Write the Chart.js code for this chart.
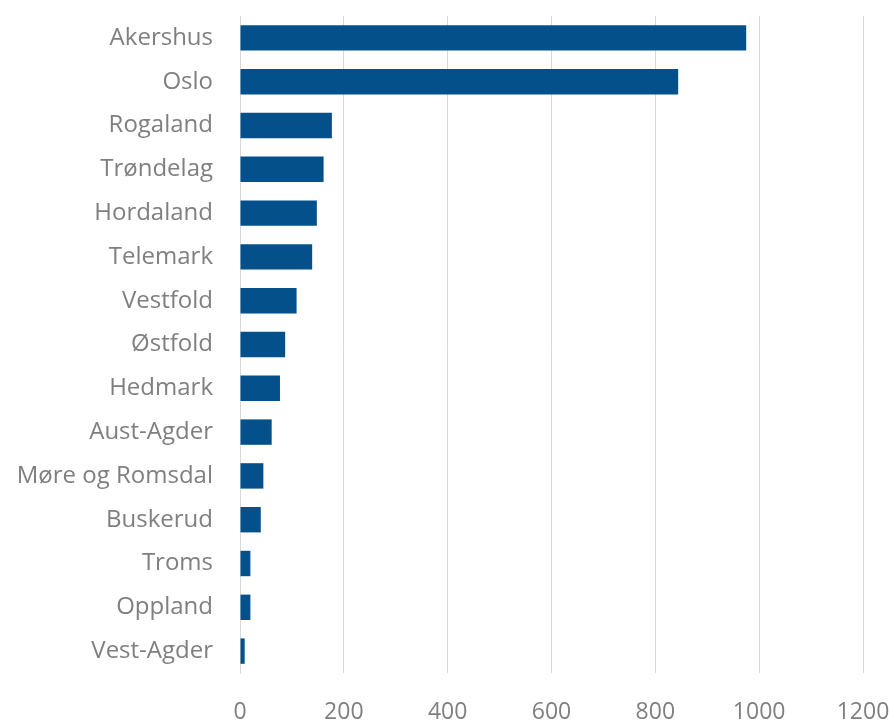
<!DOCTYPE html>
<html>
<head>
<meta charset="utf-8">
<script src="https://cdn.jsdelivr.net/npm/chart.js@4"></script>
<style>
  body { margin: 0; background: #ffffff; }
</style>
</head>
<body>
<canvas id="myChart" width="889" height="722"></canvas>
<script>
const fylker = [
    'Akershus',
    'Oslo',
    'Rogaland',
    'Trøndelag',
    'Hordaland',
    'Telemark',
    'Vestfold',
    'Østfold',
    'Hedmark',
    'Aust-Agder',
    'Møre og Romsdal',
    'Buskerud',
    'Troms',
    'Oppland',
    'Vest-Agder',
];

const verdier = [975, 844, 177, 161, 148, 139, 109, 87, 77, 61, 45, 40, 20, 20, 9];

const xTicks = [0, 200, 400, 600, 800, 1000, 1200];

let data = {
    labels: fylker,
    datasets: [{
        data: verdier,
        backgroundColor: '#03508b',
        borderWidth: 0,
        barPercentage: 0.58,
        categoryPercentage: 1,
    }]
};

let config = {
    type: 'bar',
    data: data,
    options: {
        indexAxis: 'y',
        responsive: false,
        animation: false,
        layout: { padding: { top: 16, right: 26, left: 0, bottom: 0 } },
        plugins: {
            legend: { display: false },
            tooltip: { enabled: false }
        },
        scales: {
            x: {
                min: 0,
                max: 1200,
                afterBuildTicks: function(scale) {
                    scale.ticks = xTicks.map(v => ({ value: v }));
                },
                afterFit: function(scale) {
                    // no extra room for the outer tick labels
                    scale.height = 49;
                    scale.paddingLeft = 0;
                    scale.paddingRight = 0;
                },
                grid: { color: '#d9d9d9', lineWidth: 1, drawTicks: false },
                border: { display: false },
                ticks: {
                    color: '#7f7f7f',
                    font: { family: "'Open Sans', sans-serif", size: 23 },
                    padding: 26,
                    maxRotation: 0,
                    callback: function(value) { return String(value); }
                }
            },
            y: {
                afterFit: function(scale) {
                    scale.width = 240;
                    scale.paddingTop = 0;
                    scale.paddingBottom = 0;
                },
                grid: { display: false, drawTicks: false },
                border: { display: true, color: '#d9d9d9', width: 1 },
                ticks: {
                    color: '#7f7f7f',
                    font: { family: "'Open Sans', sans-serif", size: 24 },
                    padding: 27
                }
            }
        }
    }
};

const myChart = new Chart(
    document.getElementById('myChart'),
    config
);
</script>
</body>
</html>
